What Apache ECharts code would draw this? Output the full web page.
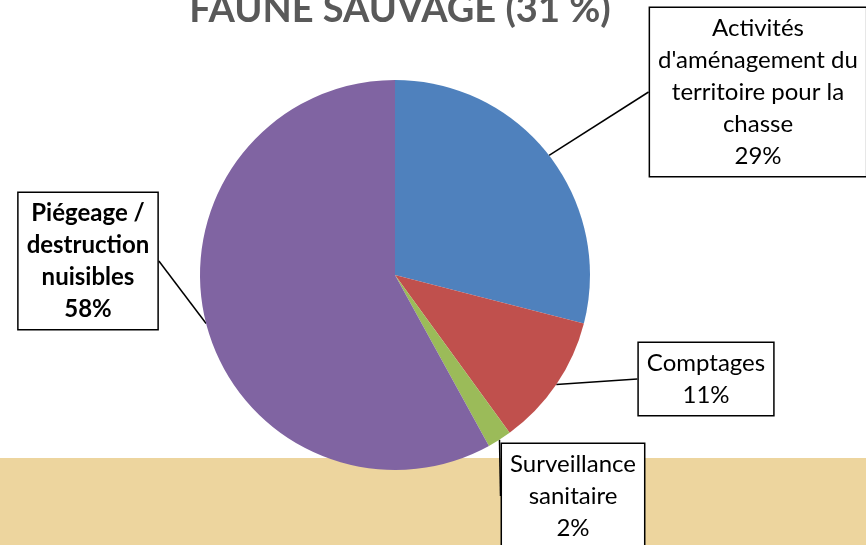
<!DOCTYPE html>
<html>
<head>
<meta charset="utf-8">
<script src="https://cdn.jsdelivr.net/npm/echarts@6/dist/echarts.min.js"></script>
<style>
  html, body { margin: 0; padding: 0; background: #fff; }
  #graficoFaune { width: 866px; height: 545px; }
</style>
</head>
<body>
<div id="graficoFaune"></div>
<script>
// part de chaque activité (faune sauvage)
const categorias = [
    "Activités\nd'aménagement du\nterritoire pour la\nchasse",
    "Comptages",
    "Surveillance\nsanitaire",
    "Piégeage /\ndestruction\nnuisibles"
];
const porcentajes = [29, 11, 2, 58];
const colores = ['#4F81BD', '#C0504D', '#9BBB59', '#8064A2'];

// centre des bulles d'étiquette (px)
const posEtiquetas = [
    [758, 92],
    [706, 379],
    [573, 496],
    [88, 261]
];

function dibujarFaune() {
    let graf = echarts.init(document.getElementById('graficoFaune'));

    let datosGraf = categorias.map((nombre, i) => ({
        value: porcentajes[i],
        name: nombre,
        itemStyle: { color: colores[i] },
        label: i === 3 ? { fontWeight: 'bold' } : {}
    }));

    let option = {
        animation: false,
        title: {
            text: "FAUNE SAUVAGE (31 %)",
            left: 395,
            textAlign: 'center',
            top: -14,
            textStyle: {
                fontFamily: 'Lato',
                fontWeight: 'bold',
                fontSize: 38,
                color: '#595959'
            }
        },
        graphic: [
            {
                type: 'rect',
                z: -10,
                silent: true,
                shape: { x: 0, y: 458, width: 866, height: 87 },
                style: { fill: '#EDD59E' }
            }
        ],
        series: [
            {
                name: "Faune sauvage",
                type: 'pie',
                center: [395, 275],
                radius: 195,
                startAngle: 90,
                clockwise: true,
                data: datosGraf,
                itemStyle: { borderWidth: 0 },
                label: {
                    show: true,
                    formatter: '{b}\n{c}%',
                    fontFamily: 'Lato',
                    fontSize: 24,
                    lineHeight: 32,
                    color: '#000',
                    align: 'center',
                    verticalAlign: 'middle',
                    backgroundColor: '#fff',
                    borderColor: '#000',
                    borderWidth: 1.5,
                    padding: [4, 8, 4, 8]
                },
                labelLine: {
                    show: true,
                    length2: 0,
                    lineStyle: { color: '#000', width: 1.5 }
                },
                labelLayout: function (params) {
                    let p = posEtiquetas[params.dataIndex];
                    return { x: p[0], y: p[1], align: 'center', verticalAlign: 'middle' };
                }
            }
        ]
    };

    graf.setOption(option);
}

dibujarFaune();
</script>
</body>
</html>
